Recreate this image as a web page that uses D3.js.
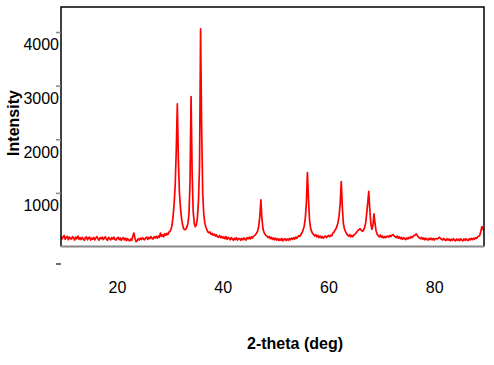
<!DOCTYPE html>
<html>
<head>
<meta charset="utf-8">
<script src="https://cdn.jsdelivr.net/npm/d3@7"></script>
<style>
  body { margin: 0; background: #fff; }
  svg { display: block; font-family: "Liberation Sans", Arial, sans-serif; }
</style>
</head>
<body>
<svg id="xrd" width="494" height="365"></svg>
<script>
// 2-theta scan: start angle and step (deg), counts
var thetaStart = 9.8;
var thetaStep = 0.2;
var counts = [
  190, 140, 180, 205, 135, 170, 190, 125, 175, 150,   // 9.8
  140, 185, 160, 120, 175, 145, 195, 135, 165, 130,   // 11.8
  170, 140, 115, 165, 180, 125, 160, 175, 120, 155,   // 13.8
  135, 170, 125, 160, 185, 140, 120, 165, 145, 175,   // 15.8
  130, 160, 180, 135, 115, 170, 145, 125, 165, 140,   // 17.8
  175, 135, 120, 155, 170, 130, 160, 115, 150, 165,   // 19.8
  125, 155, 110, 145, 120, 105, 140, 115, 200, 250,   // 21.8
  150, 90, 110, 145, 120, 155, 130, 165, 140, 125,    // 23.8
  160, 175, 135, 170, 145, 185, 155, 140, 180, 160,   // 25.8
  190, 155, 195, 170, 250, 190, 215, 180, 235, 210,   // 27.8
  245, 220, 265, 280, 320, 400, 560, 800, 1150, 1800, // 29.8
  2660, 1600, 1000, 720, 520, 400, 330, 315, 320, 360, // 31.8
  430, 600, 1200, 2795, 1400, 650, 440, 370, 400, 540, // 33.8
  850, 1500, 4060, 2200, 1000, 600, 440, 360, 310, 270, // 35.8
  255, 270, 225, 245, 210, 230, 195, 215, 180, 175,   // 37.8
  205, 165, 190, 155, 180, 145, 185, 135, 170, 150,   // 39.8
  125, 165, 140, 115, 155, 130, 165, 120, 145, 150,   // 41.8
  115, 150, 125, 160, 135, 120, 165, 145, 175, 140,   // 43.8
  180, 155, 195, 200, 225, 250, 290, 380, 560, 870,   // 45.8
  520, 330, 260, 230, 200, 190, 165, 185, 145, 170,   // 47.8
  135, 160, 125, 155, 120, 145, 110, 140, 115, 150,   // 49.8
  105, 135, 145, 110, 140, 115, 150, 125, 155, 135,   // 51.8
  165, 140, 175, 150, 185, 200, 190, 230, 260, 310,   // 53.8
  380, 520, 800, 1380, 900, 500, 340, 280, 240, 220,  // 55.8
  195, 220, 180, 205, 165, 195, 160, 185, 155, 180,   // 57.8
  195, 165, 190, 205, 180, 210, 200, 245, 265, 300,   // 59.8
  330, 380, 450, 580, 800, 1210, 750, 430, 330, 280,  // 61.8
  240, 215, 195, 220, 180, 205, 185, 215, 230, 250,   // 63.8
  280, 300, 320, 330, 300, 285, 300, 350, 430, 600,   // 65.8
  800, 1030, 700, 420, 320, 400, 610, 420, 290, 230,  // 67.8
  200, 180, 215, 170, 195, 160, 185, 165, 190, 195,   // 69.8
  175, 205, 185, 215, 220, 195, 185, 165, 195, 155,   // 71.8
  180, 145, 170, 135, 165, 145, 130, 160, 140, 170,   // 73.8
  155, 185, 165, 190, 205, 220, 235, 200, 180, 155,   // 75.8
  145, 170, 135, 160, 125, 155, 135, 120, 150, 130,   // 77.8
  155, 125, 150, 120, 145, 150, 140, 160, 172, 145,   // 79.8
  135, 120, 150, 125, 110, 145, 120, 140, 105, 135,   // 81.8
  115, 145, 120, 105, 140, 115, 135, 110, 145, 120,   // 83.8
  105, 140, 115, 145, 120, 110, 145, 125, 150, 130,   // 85.8
  155, 135, 165, 150, 180, 190, 210, 280, 373, 330,   // 87.8
  300                                                 // 89.8
];
var xTicks = [20, 40, 60, 80];
var yTicks = [1000, 2000, 3000, 4000];

var data = counts.map(function(c, i) {
    return {theta: thetaStart + i * thetaStep, count: c};
});

var svg = d3.select("#xrd");
var plotLeft = 61, plotRight = 484, plotTop = 7, plotBottom = 246.5;

var x = d3.scaleLinear().domain([9.8, 89.8]).range([plotLeft, plotRight]);
var y = d3.scaleLinear().domain([0, 4466]).range([plotBottom, plotTop]);

svg.append("clipPath").attr("id", "plotclip")
    .append("rect")
    .attr("x", plotLeft).attr("y", plotTop)
    .attr("width", plotRight - plotLeft).attr("height", plotBottom - plotTop);

// the scan
var line = d3.line()
    .x(function(d) { return x(d.theta); })
    .y(function(d) { return y(d.count); });

svg.append("path")
    .datum(data)
    .attr("clip-path", "url(#plotclip)")
    .attr("fill", "none")
    .attr("stroke", "#ff0000")
    .attr("stroke-width", 1.7)
    .attr("stroke-linejoin", "round")
    .attr("d", line);

// frame
svg.append("path")
    .attr("d", "M" + plotLeft + "," + plotBottom + "V" + plotTop + "H" + plotRight + "V" + plotBottom)
    .attr("fill", "none")
    .attr("stroke", "#000")
    .attr("stroke-width", 1.5);

svg.append("line")
    .attr("x1", plotLeft).attr("x2", plotRight)
    .attr("y1", plotBottom).attr("y2", plotBottom)
    .attr("stroke", "#888")
    .attr("stroke-width", 2);

// y axis, labels sit under their ticks
var gy = svg.append("g")
    .attr("transform", "translate(" + plotLeft + ",0)")
    .call(d3.axisLeft(y).tickValues(yTicks).tickFormat(d3.format("d")).tickSize(5).tickPadding(-3));
gy.select(".domain").remove();
gy.selectAll(".tick line").attr("stroke", "#888").attr("stroke-width", 1.5);
gy.selectAll(".tick text")
    .attr("dy", 18)
    .attr("fill", "#000")
    .style("font-size", "16px");

svg.append("line")
    .attr("x1", 56).attr("x2", 61)
    .attr("y1", 264).attr("y2", 264)
    .attr("stroke", "#444")
    .attr("stroke-width", 1.5);

// x axis, labels only
var gx = svg.append("g")
    .attr("transform", "translate(0," + plotBottom + ")")
    .call(d3.axisBottom(x).tickValues(xTicks).tickSize(0));
gx.select(".domain").remove();
gx.selectAll(".tick text")
    .attr("y", 46.5)
    .attr("dy", 0)
    .attr("dx", 2)
    .attr("fill", "#000")
    .style("font-size", "16px");

// axis titles
svg.append("text")
    .attr("transform", "translate(19,123) rotate(-90)")
    .attr("text-anchor", "middle")
    .style("font-size", "16px")
    .style("font-weight", "bold")
    .text("Intensity");

svg.append("text")
    .attr("x", 295)
    .attr("y", 349)
    .attr("text-anchor", "middle")
    .style("font-size", "16px")
    .style("font-weight", "bold")
    .text("2-theta (deg)");
</script>
</body>
</html>
